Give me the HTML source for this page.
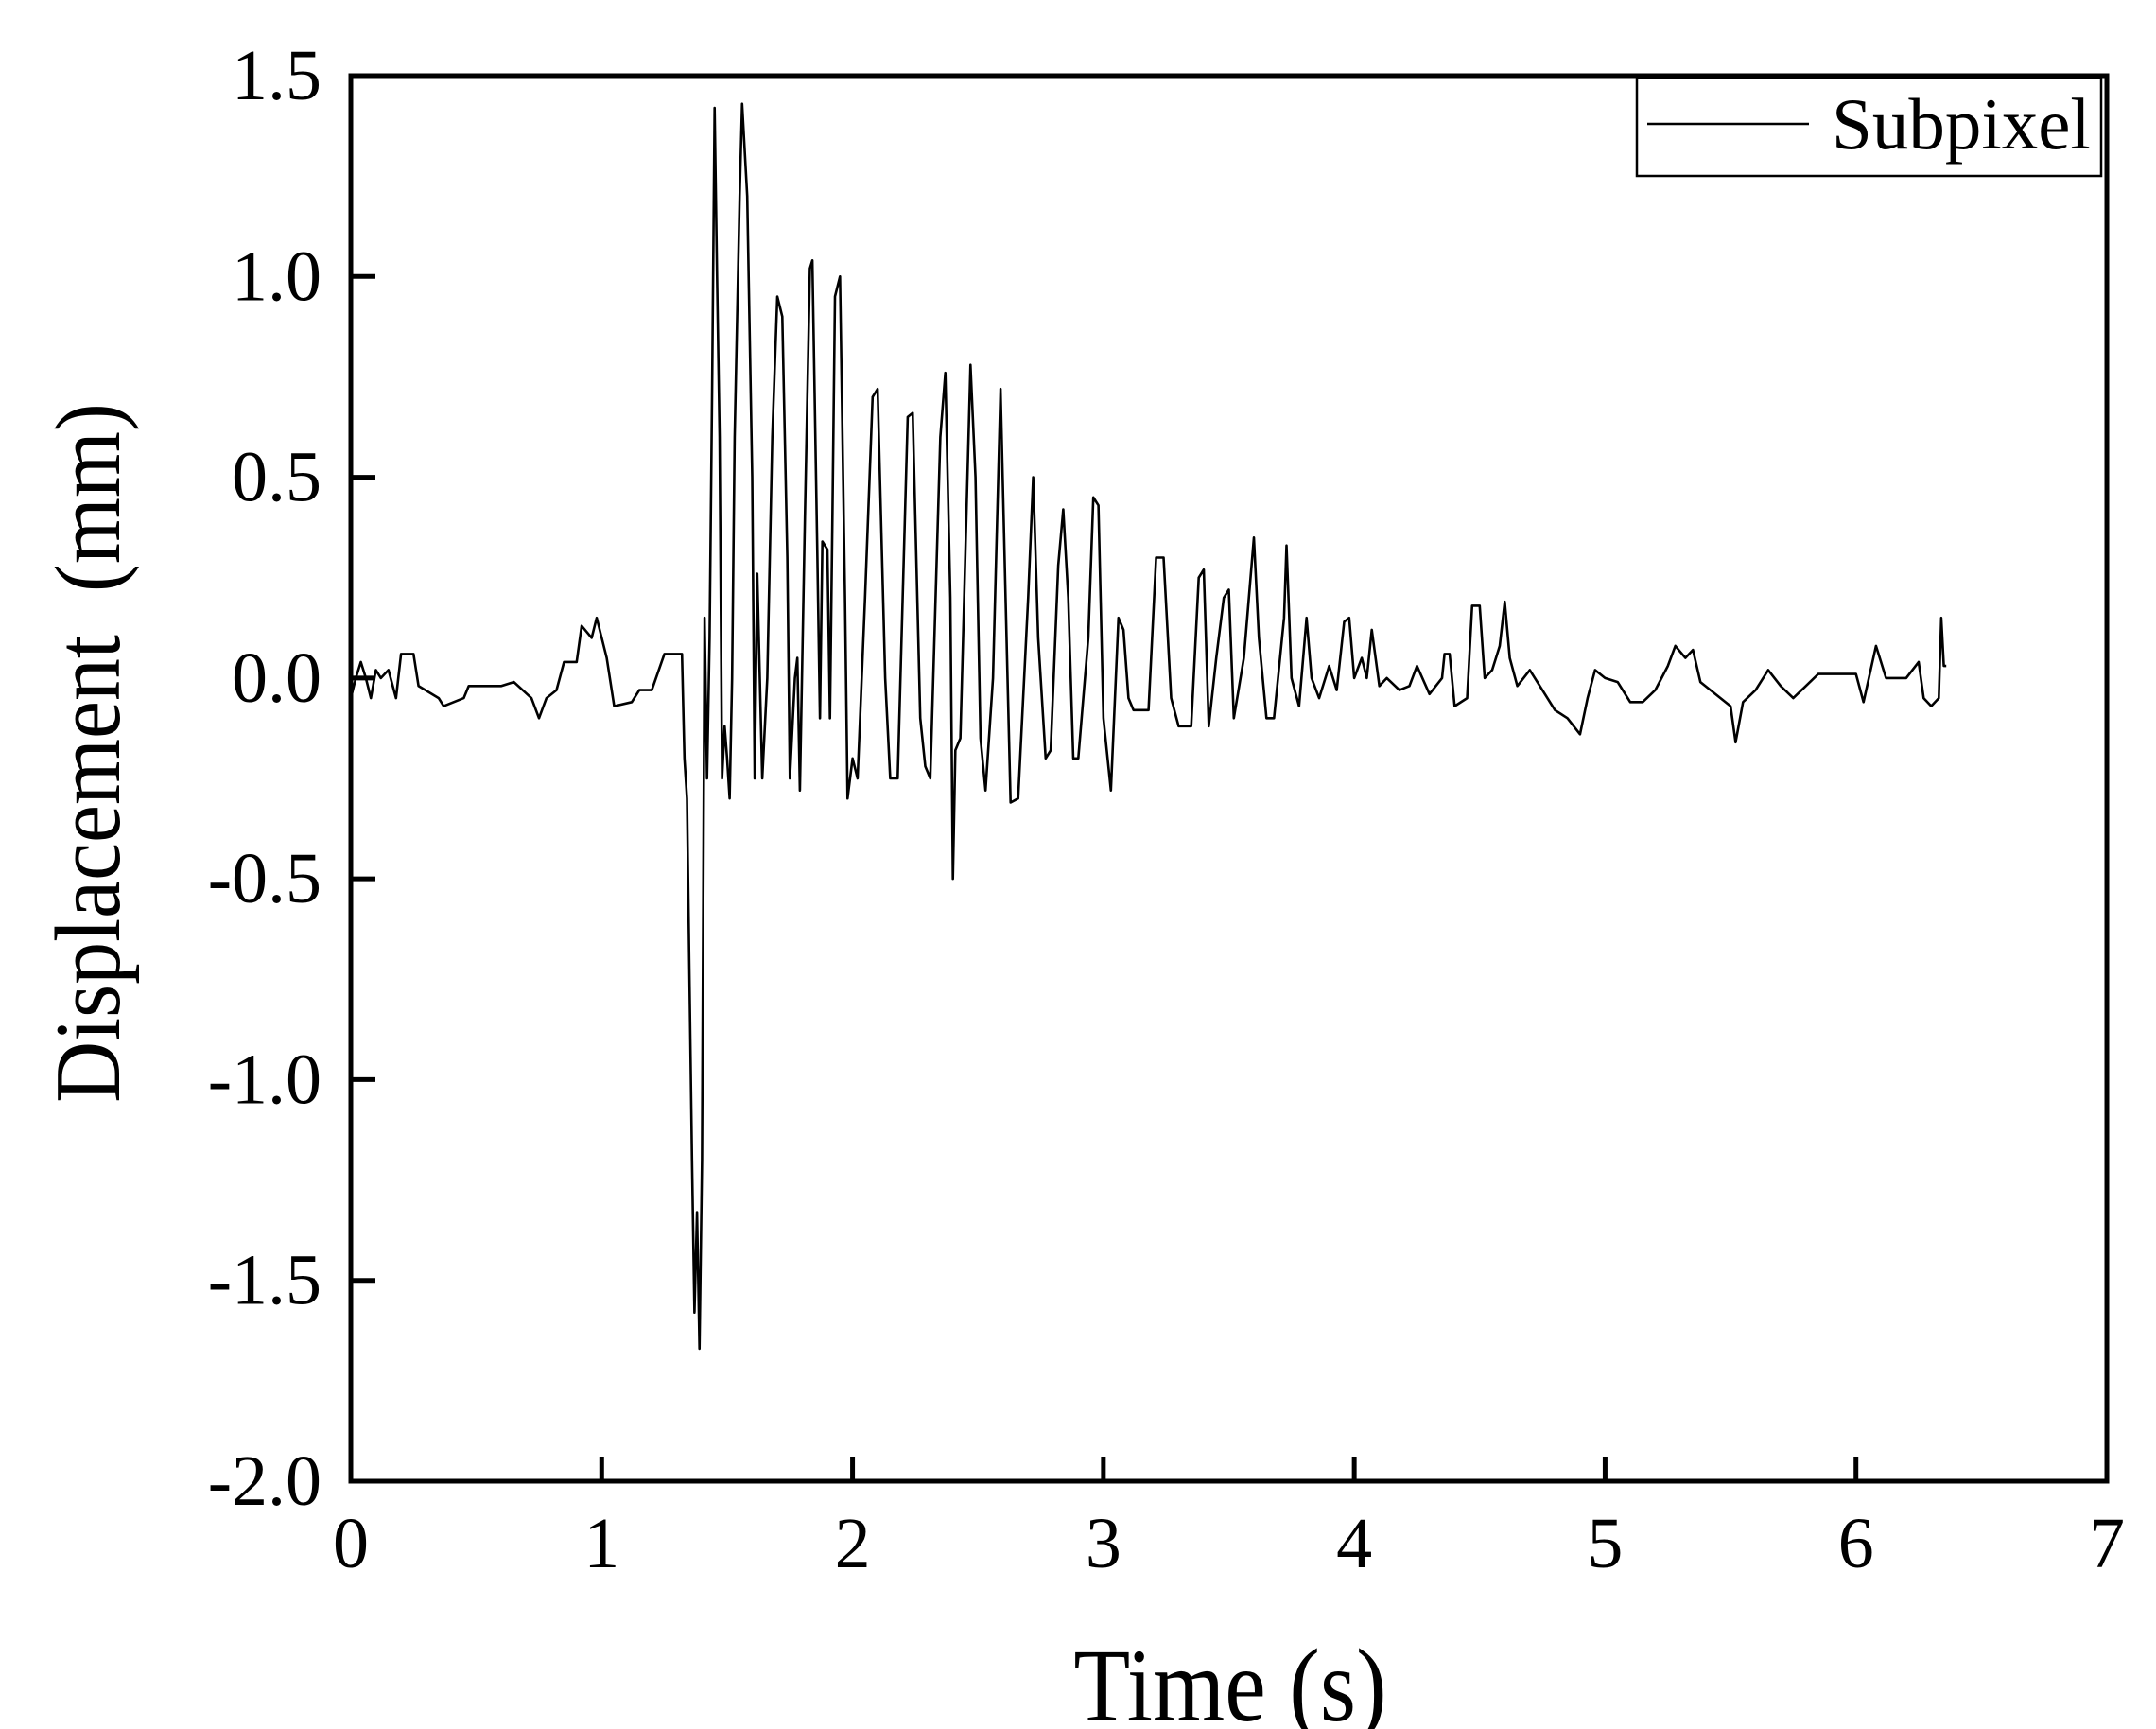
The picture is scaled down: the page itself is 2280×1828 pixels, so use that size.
<!DOCTYPE html>
<html><head><meta charset="utf-8"><style>
html,body{margin:0;padding:0;background:#fff;}
svg{display:block;}
text{font-family:"Liberation Serif",serif;fill:#000;}
</style></head><body>
<svg id="chart" width="2280" height="1828" viewBox="0 0 2280 1828" xmlns="http://www.w3.org/2000/svg">
<rect width="2280" height="1828" fill="#fff"/>
<g id="ticks"></g>
<g id="labels"></g>
<path id="series" fill="none" stroke="#000" stroke-width="2.6" stroke-linejoin="round"/>
<rect x="371" y="80" width="1857" height="1486" fill="none" stroke="#000" stroke-width="5"/>
<g>
<rect x="1731" y="82" width="491" height="104" fill="#fff" stroke="#000" stroke-width="2.5"/>
<line x1="1742" y1="131" x2="1913" y2="131" stroke="#000" stroke-width="2.6"/>
<text x="1937" y="157" font-size="77">Subpixel</text>
</g>
<text x="1301" y="1819" font-size="98" text-anchor="middle" transform="translate(1301 1819) scale(1 1.13) translate(-1301 -1819)">Time (s)</text>
<text x="0" y="0" font-size="90" text-anchor="middle" transform="translate(126 796) rotate(-90) scale(1 1.1)" xml:space="preserve">Displacement  (mm)</text>
</svg>
<script>
const xTicks=[0,1,2,3,4,5,6,7];
const yTicks=[-2.0,-1.5,-1.0,-0.5,0.0,0.5,1.0,1.5];
const yTickLabels=["-2.0","-1.5","-1.0","-0.5","0.0","0.5","1.0","1.5"];
const times=[0,0.02,0.04,0.06,0.08,0.1,0.12,0.15,0.18,0.2,0.25,0.27,0.35,0.37,0.45,0.47,0.6,0.65,0.72,0.75,0.78,0.82,0.85,0.9,0.92,0.96,0.98,1.02,1.05,1.12,1.15,1.2,1.25,1.32,1.33,1.34,1.36,1.37,1.38,1.39,1.40,1.41,1.42,1.43,1.44,1.45,1.46,1.47,1.48,1.49,1.5,1.51,1.52,1.53,1.55,1.56,1.58,1.6,1.61,1.62,1.64,1.66,1.68,1.70,1.72,1.74,1.75,1.77,1.78,1.79,1.81,1.83,1.84,1.86,1.87,1.88,1.90,1.91,1.92,1.93,1.95,1.97,1.98,2.0,2.02,2.05,2.08,2.10,2.13,2.15,2.18,2.22,2.24,2.27,2.29,2.31,2.35,2.37,2.39,2.40,2.41,2.43,2.47,2.49,2.51,2.53,2.56,2.59,2.61,2.63,2.66,2.7,2.72,2.74,2.77,2.79,2.82,2.84,2.86,2.88,2.9,2.94,2.96,2.98,3.0,3.03,3.06,3.08,3.1,3.12,3.18,3.21,3.24,3.27,3.3,3.35,3.38,3.4,3.42,3.45,3.48,3.5,3.52,3.56,3.6,3.62,3.65,3.68,3.72,3.73,3.75,3.78,3.81,3.83,3.86,3.9,3.93,3.96,3.98,4.0,4.03,4.05,4.07,4.1,4.13,4.18,4.22,4.25,4.3,4.35,4.36,4.38,4.4,4.45,4.47,4.5,4.52,4.55,4.58,4.6,4.62,4.65,4.7,4.75,4.8,4.85,4.9,4.93,4.96,5.0,5.05,5.1,5.15,5.2,5.25,5.28,5.32,5.35,5.38,5.5,5.52,5.55,5.6,5.65,5.7,5.75,5.8,5.85,5.9,6.0,6.03,6.08,6.12,6.2,6.25,6.27,6.3,6.33,6.34,6.35,6.36];
const displacement=[-0.05,0.0,0.04,0.0,-0.05,0.02,0.0,0.02,-0.05,0.06,0.06,-0.02,-0.05,-0.07,-0.05,-0.02,-0.02,-0.01,-0.05,-0.1,-0.05,-0.03,0.04,0.04,0.13,0.1,0.15,0.05,-0.07,-0.06,-0.03,-0.03,0.06,0.06,-0.2,-0.3,-1.2,-1.58,-1.33,-1.67,-1.2,0.15,-0.25,0.1,0.7,1.42,1.0,0.6,-0.25,-0.12,-0.2,-0.3,0.0,0.6,1.2,1.43,1.2,0.5,-0.25,0.26,-0.25,0.0,0.6,0.95,0.9,0.3,-0.25,0.0,0.05,-0.28,0.4,1.02,1.04,0.3,-0.1,0.34,0.32,-0.1,0.4,0.95,1.0,0.2,-0.3,-0.2,-0.25,0.2,0.7,0.72,0.0,-0.25,-0.25,0.65,0.66,-0.1,-0.22,-0.25,0.6,0.76,0.2,-0.5,-0.18,-0.15,0.78,0.5,-0.15,-0.28,0.0,0.72,0.2,-0.31,-0.3,0.2,0.5,0.1,-0.2,-0.18,0.28,0.42,0.2,-0.2,-0.2,0.1,0.45,0.43,-0.1,-0.28,0.15,0.12,-0.05,-0.08,-0.08,0.3,0.3,-0.05,-0.12,-0.12,0.25,0.27,-0.12,0.05,0.2,0.22,-0.1,0.05,0.35,0.1,-0.1,-0.1,0.15,0.33,0.0,-0.07,0.15,0.0,-0.05,0.03,-0.03,0.14,0.15,0.0,0.05,0.0,0.12,-0.02,0.0,-0.03,-0.02,0.03,-0.04,0.0,0.06,0.06,-0.07,-0.05,0.18,0.18,0.0,0.02,0.08,0.19,0.05,-0.02,0.02,-0.03,-0.08,-0.1,-0.14,-0.05,0.02,0.0,-0.01,-0.06,-0.06,-0.03,0.03,0.08,0.05,0.07,-0.01,-0.07,-0.16,-0.06,-0.03,0.02,-0.02,-0.05,-0.02,0.01,0.01,0.01,-0.06,0.08,0.0,0.0,0.04,-0.05,-0.07,-0.05,0.15,0.03,0.03];

const X0=371,X1=2228,Y0=80,Y1=1566;
const xMin=0,xMax=7,yMin=-2,yMax=1.5;
function sx(v){return X0+(v-xMin)/(xMax-xMin)*(X1-X0);}
function sy(v){return Y1-(v-yMin)/(yMax-yMin)*(Y1-Y0);}
const NS="http://www.w3.org/2000/svg";
const tg=document.getElementById('ticks'), lg=document.getElementById('labels');
xTicks.forEach(function(t){
  const l=document.createElementNS(NS,'line');
  
  
  l.setAttribute('x1',sx(t));l.setAttribute('x2',sx(t));
  l.setAttribute('y1',Y1);l.setAttribute('y2',Y1-26);
  l.setAttribute('stroke','#000');l.setAttribute('stroke-width','5');
  tg.appendChild(l);
  const tx=document.createElementNS(NS,'text');
  
  
  tx.setAttribute('x',sx(t));tx.setAttribute('y',1657);
  tx.setAttribute('font-size','76');tx.setAttribute('text-anchor','middle');
  tx.textContent=String(t);
  lg.appendChild(tx);
});
yTicks.forEach(function(v,i){
  const l=document.createElementNS(NS,'line');
  
  
  l.setAttribute('x1',X0);l.setAttribute('x2',X0+26);
  l.setAttribute('y1',sy(v));l.setAttribute('y2',sy(v));
  l.setAttribute('stroke','#000');l.setAttribute('stroke-width','5');
  tg.appendChild(l);
  const tx=document.createElementNS(NS,'text');
  
  
  tx.setAttribute('x',340);tx.setAttribute('y',sy(v)+25);
  tx.setAttribute('font-size','76');tx.setAttribute('text-anchor','end');
  tx.textContent=yTickLabels[i];
  lg.appendChild(tx);
});
let d='';
times.forEach(function(t,i){d+=(i?'L':'M')+sx(t).toFixed(1)+' '+sy(displacement[i]).toFixed(1);});
document.getElementById('series').setAttribute('d',d);
</script>
</body></html>
